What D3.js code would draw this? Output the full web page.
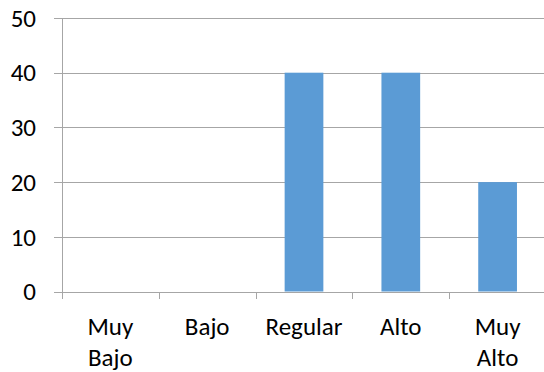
<!DOCTYPE html>
<html>
<head>
<meta charset="utf-8">
<script src="https://cdn.jsdelivr.net/npm/d3@7"></script>
<style>
  html, body { margin: 0; padding: 0; background: #fff; }
  svg { display: block; }
  text { font-family: Carlito, Calibri, Lato, sans-serif; fill: #000; }
</style>
</head>
<body>
<svg id="chart" width="544" height="372"></svg>
<script>
// Categories and their values
const categories = [["Muy", "Bajo"], ["Bajo"], ["Regular"], ["Alto"], ["Muy", "Alto"]];
const values = [0, 0, 40, 40, 20];
const yTicks = [0, 10, 20, 30, 40, 50];

const svg = d3.select("#chart");
const keys = categories.map(c => c.join(" "));

const x = d3.scaleBand().domain(keys).range([62, 546]).padding(0);
const y = d3.scaleLinear().domain([0, 50]).range([291.5, 18]);

const gridColor = "#a6a6a6";
const fontSize = 25;

// Horizontal gridlines (extend left of the axis as tick marks)
svg.append("g")
  .selectAll("line")
  .data(yTicks)
  .join("line")
  .attr("x1", 54).attr("x2", 546)
  .attr("y1", d => Math.round(y(d)) + 0.5)
  .attr("y2", d => Math.round(y(d)) + 0.5)
  .attr("stroke", gridColor)
  .attr("stroke-width", 1);

// Vertical axis line
svg.append("line")
  .attr("x1", 62.5).attr("x2", 62.5)
  .attr("y1", Math.round(y(50)) + 0.5)
  .attr("y2", Math.round(y(0)) + 7)
  .attr("stroke", gridColor);

// Category boundary ticks below the baseline
const boundaries = keys.map(k => x(k)).concat([x.range()[1]]);
svg.append("g")
  .selectAll("line")
  .data(boundaries)
  .join("line")
  .attr("x1", d => Math.round(d) + 0.5)
  .attr("x2", d => Math.round(d) + 0.5)
  .attr("y1", Math.round(y(0)) + 0.5)
  .attr("y2", Math.round(y(0)) + 7)
  .attr("stroke", gridColor);

// Bars
const barW = x.bandwidth() * 0.4;
svg.append("g")
  .selectAll("rect")
  .data(values.map((v, i) => ({ key: keys[i], v })))
  .join("rect")
  .attr("x", d => x(d.key) + (x.bandwidth() - barW) / 2)
  .attr("width", barW)
  .attr("y", d => y(d.v))
  .attr("height", d => y(0) - y(d.v))
  .attr("fill", "#5b9bd5");

// Y tick labels
svg.append("g")
  .selectAll("text")
  .data(yTicks)
  .join("text")
  .attr("x", 36)
  .attr("y", d => y(d))
  .attr("dy", "0.35em")
  .attr("text-anchor", "end")
  .attr("font-size", fontSize)
  .text(d => d);

// Category labels (wrapped on two lines where needed)
const lab = svg.append("g")
  .selectAll("text")
  .data(categories)
  .join("text")
  .attr("x", (d, i) => x(keys[i]) + x.bandwidth() / 2)
  .attr("y", 335)
  .attr("text-anchor", "middle")
  .attr("font-size", fontSize);
lab.selectAll("tspan")
  .data(d => d)
  .join("tspan")
  .attr("x", function () { return d3.select(this.parentNode).attr("x"); })
  .attr("dy", (d, i) => i === 0 ? 0 : 31)
  .text(d => d);
</script>
</body>
</html>
